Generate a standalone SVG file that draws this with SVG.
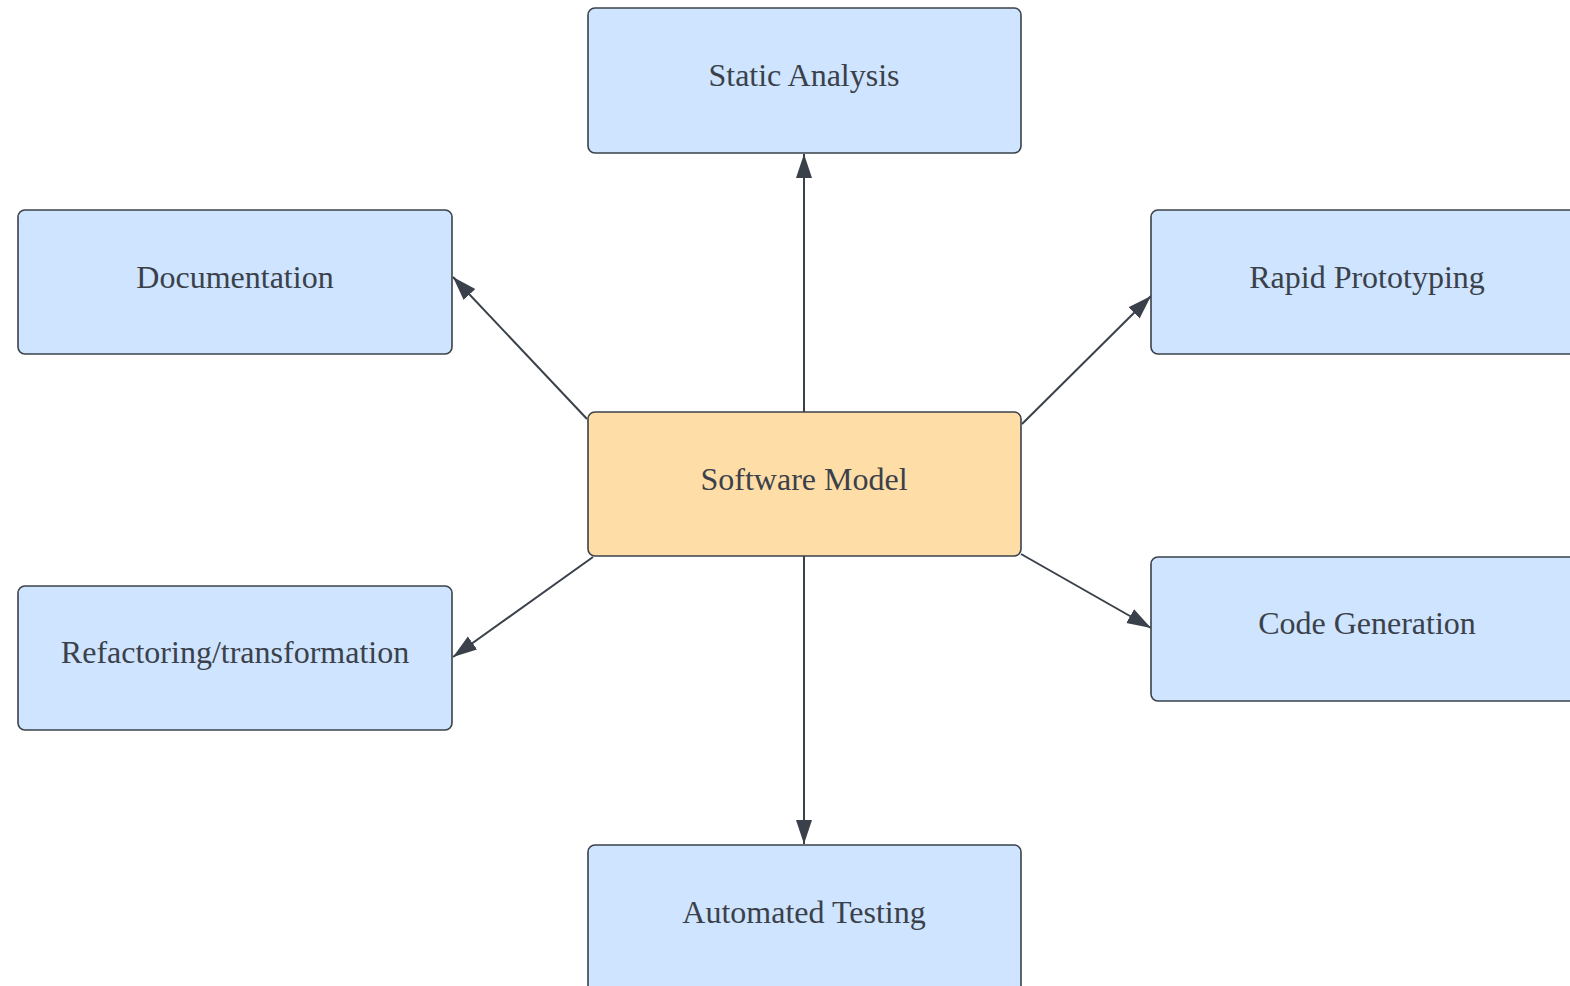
<svg xmlns="http://www.w3.org/2000/svg" width="1570" height="986" viewBox="0 0 1570 986">
  <style>
    .box { fill: #cfe4ff; stroke: #3a414a; stroke-width: 1.6; }
    .core { fill: #ffdda6; stroke: #3a414a; stroke-width: 1.6; }
    .label { font-family: "Liberation Serif", "Times New Roman", serif; font-size: 32px; fill: #3a414a; text-anchor: middle; }
    .edge { stroke: #3a414a; stroke-width: 2; fill: none; marker-end: url(#arrow); }
  </style>
  <defs>
    <marker id="arrow" markerUnits="userSpaceOnUse" markerWidth="26" markerHeight="18" refX="24" refY="8" orient="auto">
      <path d="M0,0 L24,8 L0,16 Z" fill="#3a414a"/>
    </marker>
  </defs>
  <rect width="1570" height="986" fill="#ffffff"/>

  <g id="connectors">
    <line class="edge" x1="804" y1="412" x2="804" y2="154"/>
    <line class="edge" x1="587" y1="419" x2="453" y2="277"/>
    <line class="edge" x1="1022" y1="424" x2="1151" y2="296"/>
    <line class="edge" x1="593" y1="557" x2="453" y2="657"/>
    <line class="edge" x1="1021" y1="554" x2="1151" y2="628"/>
    <line class="edge" x1="804" y1="556" x2="804" y2="844"/>
  </g>

  <g id="static-analysis">
    <rect class="box" x="588" y="8" width="433" height="145" rx="7"/>
    <text class="label" x="804" y="86">Static Analysis</text>
  </g>
  <g id="documentation">
    <rect class="box" x="18" y="210" width="434" height="144" rx="7"/>
    <text class="label" x="235" y="288">Documentation</text>
  </g>
  <g id="rapid-prototyping">
    <rect class="box" x="1151" y="210" width="434" height="144" rx="7"/>
    <text class="label" x="1367" y="288">Rapid Prototyping</text>
  </g>
  <g id="software-model">
    <rect class="core" x="588" y="412" width="433" height="144" rx="7"/>
    <text class="label" x="804" y="490">Software Model</text>
  </g>
  <g id="refactoring">
    <rect class="box" x="18" y="586" width="434" height="144" rx="7"/>
    <text class="label" x="235" y="663">Refactoring/transformation</text>
  </g>
  <g id="code-generation">
    <rect class="box" x="1151" y="557" width="434" height="144" rx="7"/>
    <text class="label" x="1367" y="634">Code Generation</text>
  </g>
  <g id="automated-testing">
    <rect class="box" x="588" y="845" width="433" height="160" rx="7"/>
    <text class="label" x="804" y="923">Automated Testing</text>
  </g>
</svg>
